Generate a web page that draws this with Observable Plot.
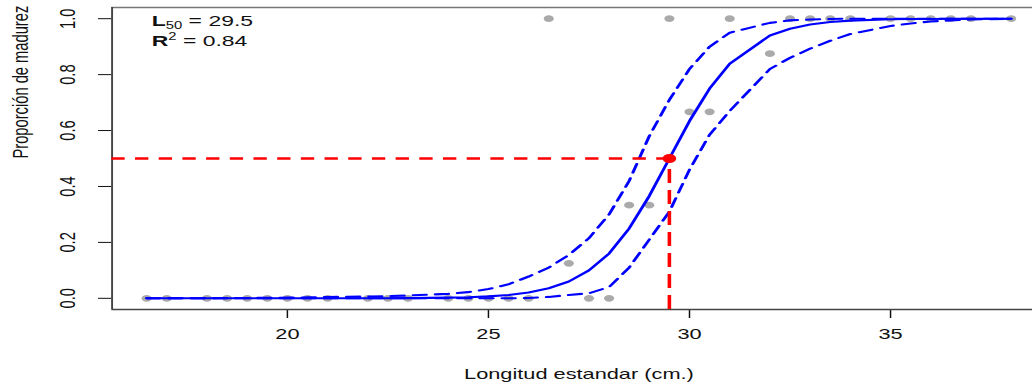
<!DOCTYPE html>
<html><head><meta charset="utf-8">
<script src="https://cdn.jsdelivr.net/npm/d3@7"></script>
<script src="https://cdn.jsdelivr.net/npm/@observablehq/plot@0.6"></script>
<style>
html,body{margin:0;padding:0;background:#fff;overflow:hidden;}
#chart svg{display:block;}
</style></head><body><div id="chart"></div>
<script>
// Data
const longitud = [16.5,17,18,18.5,19,19.5,20,20.5,21,22,22.5,23,24,24.5,25,25.5,26,26.5,27,27.5,28,28.5,29,29.5,30,30.5,31,32,32.5,33,33.5,34,35,35.5,36,36.5,37,38];
const proporcion = [0,0,0,0,0,0,0,0,0,0,0,0,0,0,0,0,0,1,0.125,0,0,0.333,0.333,1,0.667,0.667,1,0.875,1,1,1,1,1,1,1,1,1,1];
const ajuste = [0,0,0,0,0,0,0,0.0001,0.0001,0.0003,0.0005,0.0008,0.0024,0.004,0.007,0.012,0.021,0.036,0.06,0.10,0.16,0.25,0.366,0.5,0.634,0.75,0.839,0.94,0.964,0.979,0.988,0.993,0.998,0.999,0.999,1,1,1];
const superior = [0.0002,0.0003,0.0006,0.0009,0.0012,0.0017,0.0024,0.0033,0.0045,0.0065,0.008,0.010,0.016,0.022,0.033,0.050,0.078,0.11,0.155,0.215,0.30,0.42,0.58,0.71,0.82,0.90,0.95,0.985,0.994,0.997,0.999,1,1,1,1,1,1,1];
const inferior = [0,0,0,0,0,0,0,0,0,0,0,0,0,0,0,0,0.001,0.005,0.012,0.018,0.04,0.11,0.21,0.31,0.46,0.585,0.67,0.82,0.86,0.893,0.921,0.945,0.974,0.983,0.99,0.994,0.997,1];
const xTicks = [20,25,30,35];
const yTicks = [0,0.2,0.4,0.6,0.8,1.0];
const L50 = 29.5;
const R2 = 0.84;
const xDomain = [15.64, 38.86];
const yDomain = [-0.04, 1.04];
const xLabel = "Longitud estandar (cm.)";
const yLabel = "Proporción de madurez";

const W = 1032, H = 389, S = 1.4806, W0 = W / S;
const ML = 75.2;
const font = "'Liberation Sans', Arial, Helvetica, sans-serif";

const puntos = longitud.map((x, i) => ({x, y: proporcion[i]}));
const curva = longitud.map((x, i) => ({x, fit: ajuste[i], up: superior[i], lo: inferior[i]}));

const plot = Plot.plot({
  width: W0, height: H,
  marginLeft: ML, marginRight: 0, marginTop: 7, marginBottom: 80,
  style: {fontFamily: font, fontSize: "14.7px", color: "#111", background: "#fff"},
  x: {domain: xDomain, range: [ML, 705.8], ticks: xTicks, tickSize: 9, tickPadding: 10, label: null, tickFormat: d3.format("d")},
  y: {domain: yDomain, ticks: yTicks, tickFormat: d3.format(".1f"), tickSize: 9, tickPadding: 16, tickRotate: -90, label: null},
  marks: [
    Plot.ruleY([yDomain[1]], {stroke: "#777", strokeWidth: 1.4}),
    Plot.ruleY([yDomain[0]], {stroke: "#444", strokeWidth: 1.4}),
    Plot.ruleX([xDomain[0]], {stroke: "#444", strokeWidth: 1.3}),
    Plot.dot(puntos, {x: "x", y: "y", r: 3.4, fill: "#aaaaaa", stroke: "none"}),
    Plot.line(curva, {x: "x", y: "fit", stroke: "#0000ff", strokeWidth: 2.1}),
    Plot.line(curva, {x: "x", y: "up", stroke: "#0000ff", strokeWidth: 2.1, strokeDasharray: "9,6"}),
    Plot.line(curva, {x: "x", y: "lo", stroke: "#0000ff", strokeWidth: 2.1, strokeDasharray: "9,6"}),
    Plot.ruleY([0.5], {x1: xDomain[0], x2: L50, stroke: "#ff0000", strokeWidth: 2.6, strokeDasharray: "9,7"}),
    Plot.ruleX([L50], {y1: yDomain[0], y2: 0.5, stroke: "#ff0000", strokeWidth: 2.4, strokeDasharray: "14,7"}),
    Plot.dot([{x: L50, y: 0.5}], {x: "x", y: "y", r: 4.6, fill: "#ff0000", stroke: "none"}),
    Plot.text([xLabel], {x: () => (xDomain[0] + xDomain[1]) / 2, frameAnchor: "bottom", dy: 69, text: d => d, fontSize: 14.7, fill: "#111"}),
    Plot.text([yLabel], {y: () => (yDomain[0] + yDomain[1]) / 2, frameAnchor: "left", dx: -61.7, rotate: -90, text: d => d, fontSize: 14.7, fill: "#111"})
  ]
});

// stretch horizontally like the reference
plot.setAttribute("viewBox", `0 0 ${W0} ${H}`);
plot.setAttribute("width", W);
plot.setAttribute("height", H);
plot.setAttribute("preserveAspectRatio", "none");
plot.style.maxWidth = "none";

const svg = d3.select(plot);
const ann = svg.append("g").attr("font-family", font).attr("fill", "#111").attr("font-size", 15.5).attr("text-anchor", "start");
const t1 = ann.append("text").attr("x", ML + 27.3).attr("y", 26.5);
t1.append("tspan").attr("font-weight", "bold").text("L");
t1.append("tspan").attr("font-size", 10).attr("dy", 2.5).text("50");
t1.append("tspan").attr("dy", -2.5).text(" = " + L50.toFixed(1));
const t2 = ann.append("text").attr("x", ML + 27.3).attr("y", 46);
t2.append("tspan").attr("font-weight", "bold").text("R");
t2.append("tspan").attr("font-size", 10).attr("dy", -5.5).text("2");
t2.append("tspan").attr("dy", 5.5).text(" = " + R2.toFixed(2));

document.getElementById("chart").appendChild(plot);
</script></body></html>
